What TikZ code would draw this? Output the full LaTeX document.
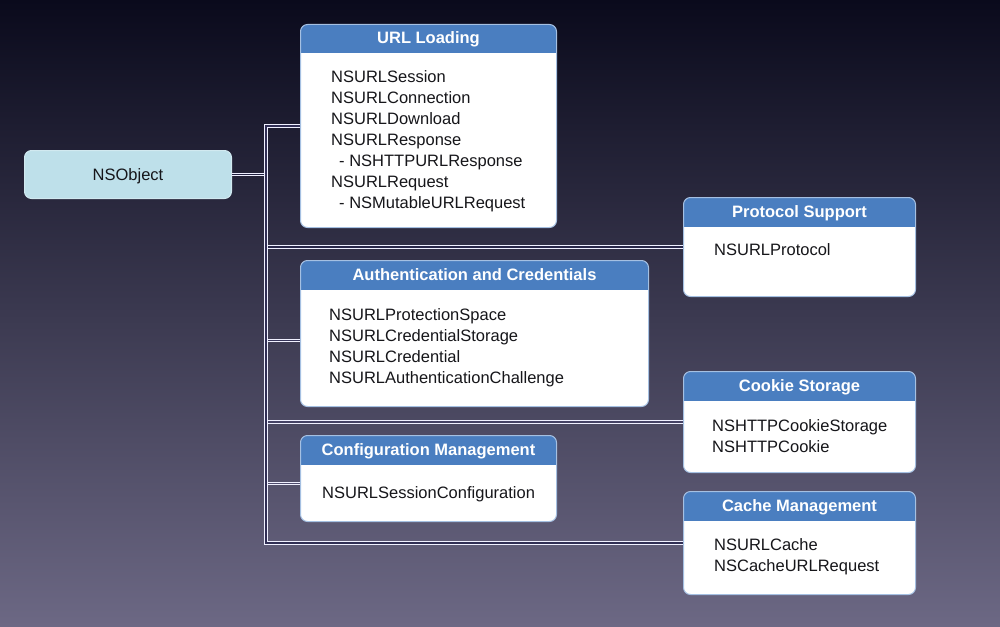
\documentclass[tikz,border=0pt]{standalone}
\usepackage{fontspec}
\setmainfont{Liberation Sans}
\usetikzlibrary{positioning}
\definecolor{bgtop}{RGB}{10,10,28}
\definecolor{bgmid}{RGB}{48,46,84}
\definecolor{bgbot}{RGB}{108,104,132}
\definecolor{headblue}{RGB}{74,126,192}
\definecolor{rimblue}{RGB}{165,192,226}
\definecolor{rootfill}{RGB}{190,224,234}
\definecolor{ink}{RGB}{22,22,26}
\tikzset{
	x=1pt, y=-1pt, % one unit is one pixel of the slide, y runs downwards
	group/.style={draw=rimblue, line width=1pt, fill=white, rounded corners=7pt,
		anchor=north west, inner sep=0pt,
		path picture={\fill[headblue, sharp corners] (path picture bounding box.north west)
			rectangle ([yshift=-29pt]path picture bounding box.north east);}}, % blue title band
	head text/.style={text=white, font=\bfseries\fontsize{16.5}{20}\selectfont, inner sep=0pt,
		anchor=base},
	items/.style={anchor=north west, align=left, inner sep=0pt, text=ink,
		font=\fontsize{16.5}{21}\selectfont},
	root/.style={draw=rootfill!70!white, line width=1pt, fill=rootfill, rounded corners=7pt,
		anchor=north west, minimum width=207pt, minimum height=48pt, text=ink,
		text height=11.8pt, text depth=0pt, font=\fontsize{16.5}{20}\selectfont},
	link/.style={draw=white!94!blue, line width=1pt, double=#1, double distance=1.5pt},
	link/.default=bgmid,
}

\begin{document}
\begin{tikzpicture}
	\useasboundingbox (0,0) rectangle (1000,626);
	\shade[top color=bgtop, middle color=bgmid, bottom color=bgbot] (0,0) rectangle (1000,626);

	\node[root] (obj) at (24,150) {NSObject};

	\node[group, minimum width=256pt, minimum height=203pt] (url) at (300,24) {};
	\node[group, minimum width=232pt, minimum height=99pt] (prot) at (683,197) {};
	\node[group, minimum width=348pt, minimum height=146pt] (auth) at (300,260) {};
	\node[group, minimum width=232pt, minimum height=101pt] (cookie) at (683,371) {};
	\node[group, minimum width=256pt, minimum height=86pt] (config) at (300,435) {};
	\node[group, minimum width=232pt, minimum height=103pt] (cache) at (683,491) {};

	\node[head text] (urlhead) at ([yshift=-20pt]url.north) {URL Loading};
	\node[head text] (prothead) at ([yshift=-20pt]prot.north) {Protocol Support};
	\node[head text] (authhead) at ([yshift=-20pt]auth.north) {Authentication and Credentials};
	\node[head text] (cookiehead) at ([yshift=-20pt]cookie.north) {Cookie Storage};
	\node[head text] (confighead) at ([yshift=-20pt]config.north) {Configuration Management};
	\node[head text] (cachehead) at ([yshift=-20pt]cache.north) {Cache Management};

	\node[items] (urllist) at (331,70) {NSURLSession\\NSURLConnection\\NSURLDownload\\NSURLResponse\\
		\hspace{8pt}- NSHTTPURLResponse\\NSURLRequest\\\hspace{8pt}- NSMutableURLRequest};
	\node[items] (protlist) at (714,243) {NSURLProtocol};
	\node[items] (authlist) at (329,308) {NSURLProtectionSpace\\NSURLCredentialStorage\\
		NSURLCredential\\NSURLAuthenticationChallenge};
	\node[items] (cookielist) at (712,419) {NSHTTPCookieStorage\\NSHTTPCookie};
	\node[items] (configlist) at (322,486) {NSURLSessionConfiguration};
	\node[items] (cachelist) at (714,538) {NSURLCache\\NSCacheURLRequest};

	\coordinate (trunk) at (266,0);

	% branches first, the trunk goes over their ends
	\draw[link=bgtop!40!bgmid] (obj.east) -- (obj.east -| trunk);
	\draw[link=bgtop!22!bgmid] (prot.west) -- (prot.west -| trunk);
	\draw[link=bgmid!92!bgbot] ([yshift=-7pt]auth.west) -- ([yshift=-7pt]auth.west -| trunk);
	\draw[link=bgmid!65!bgbot] (cookie.west) -- (cookie.west -| trunk);
	\draw[link=bgmid!48!bgbot] ([yshift=-5pt]config.west) -- ([yshift=-5pt]config.west -| trunk);
	%
	\draw[link] (url.west) -- (url.west -| trunk) -- (cache.west -| trunk) -- (cache.west);
\end{tikzpicture}
\end{document}
